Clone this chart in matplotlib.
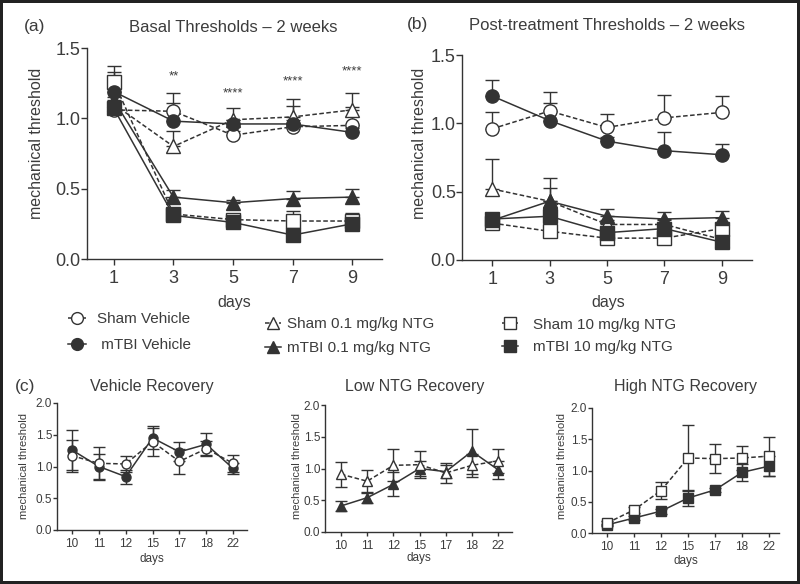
import numpy as np
import matplotlib
matplotlib.use('Agg')
import matplotlib.pyplot as plt
from matplotlib.lines import Line2D

plt.rcParams['font.family'] = ['Liberation Sans', 'DejaVu Sans']

DARK = '#333333'
TXT = '#3c3c3c'
W, H = 800, 584

# --- data: panels (a) and (b), days 1-9 ---
days_ab = [1, 3, 5, 7, 9]

a_sham_veh = [1.06, 1.05, 0.88, 0.94, 0.95]
a_sham_veh_err = [0.05, 0.13, 0.03, 0.15, 0.13]
a_mtbi_veh = [1.19, 0.98, 0.96, 0.96, 0.90]
a_mtbi_veh_err = [0.14, 0.13, 0.03, 0.03, 0.03]
a_sham_lo = [1.10, 0.80, 0.99, 1.01, 1.06]
a_sham_lo_err = [0.05, 0.11, 0.08, 0.13, 0.12]
a_mtbi_lo = [1.13, 0.44, 0.40, 0.43, 0.44]
a_mtbi_lo_err = [0.16, 0.05, 0.02, 0.05, 0.06]
a_sham_hi = [1.26, 0.32, 0.28, 0.27, 0.27]
a_sham_hi_err = [0.11, 0.02, 0.04, 0.07, 0.06]
a_mtbi_hi = [1.07, 0.31, 0.26, 0.17, 0.25]
a_mtbi_hi_err = [0.03, 0.02, 0.02, 0.03, 0.03]

stars_days = [3, 5, 7, 9]
stars_y = [1.30, 1.18, 1.26, 1.33]
stars_txt = ['**', '****', '****', '****']

b_sham_veh = [0.96, 1.09, 0.97, 1.04, 1.08]
b_sham_veh_err = [0.12, 0.14, 0.10, 0.17, 0.12]
b_mtbi_veh = [1.20, 1.02, 0.87, 0.80, 0.77]
b_mtbi_veh_err = [0.12, 0.13, 0.03, 0.14, 0.08]
b_sham_lo = [0.52, 0.43, 0.26, 0.26, 0.15]
b_sham_lo_err = [0.22, 0.17, 0.03, 0.03, 0.03]
b_mtbi_lo = [0.29, 0.43, 0.32, 0.30, 0.31]
b_mtbi_lo_err = [0.03, 0.10, 0.05, 0.05, 0.05]
b_sham_hi = [0.27, 0.21, 0.16, 0.16, 0.23]
b_sham_hi_err = [0.02, 0.02, 0.02, 0.02, 0.02]
b_mtbi_hi = [0.30, 0.32, 0.20, 0.23, 0.13]
b_mtbi_hi_err = [0.03, 0.04, 0.02, 0.03, 0.02]

# --- data: panel (c) recovery ---
days_c = ['10', '11', '12', '15', '17', '18', '22']

veh_sham = [1.17, 1.05, 1.04, 1.39, 1.08, 1.28, 1.05]
veh_sham_err = [0.25, 0.26, 0.13, 0.22, 0.20, 0.12, 0.13]
veh_mtbi = [1.26, 1.00, 0.84, 1.45, 1.23, 1.35, 0.97]
veh_mtbi_err = [0.32, 0.20, 0.11, 0.18, 0.15, 0.17, 0.09]
lo_sham = [0.91, 0.80, 1.05, 1.06, 0.93, 1.05, 1.12]
lo_sham_err = [0.20, 0.18, 0.25, 0.21, 0.16, 0.18, 0.19]
lo_mtbi = [0.41, 0.54, 0.75, 1.00, 0.95, 1.27, 0.98]
lo_mtbi_err = [0.08, 0.09, 0.19, 0.12, 0.10, 0.35, 0.14]
hi_sham = [0.16, 0.37, 0.68, 1.20, 1.19, 1.20, 1.23]
hi_sham_err = [0.03, 0.05, 0.14, 0.53, 0.23, 0.19, 0.31]
hi_mtbi = [0.13, 0.24, 0.35, 0.56, 0.69, 0.97, 1.07]
hi_mtbi_err = [0.02, 0.03, 0.04, 0.13, 0.03, 0.13, 0.16]

DASH = (0, (3, 1.6))

fig = plt.figure(figsize=(8, 5.84), dpi=100)
fig.patch.set_edgecolor('#222222')
fig.patch.set_linewidth(3)


def px_axes(l, t, r, b):
    return fig.add_axes([l / W, 1 - b / H, (r - l) / W, (b - t) / H])


def ftext(x, y, s, **kw):
    kw.setdefault('ha', 'center')
    kw.setdefault('va', 'center')
    kw.setdefault('color', TXT)
    fig.text(x / W, 1 - y / H, s, **kw)


def style(ax, fs, tlen):
    for s in ['top', 'right']:
        ax.spines[s].set_visible(False)
    for s in ['left', 'bottom']:
        ax.spines[s].set_color(DARK)
        ax.spines[s].set_linewidth(1.0)
    ax.tick_params(colors=DARK, labelcolor=TXT, labelsize=fs, length=tlen, width=1.0)
    ax.tick_params(axis='y', pad=0.5)


def series(ax, x, y, e, marker, filled, dashed, ms, cap, upper_only):
    e = np.array(e)
    yerr = [np.zeros(len(e)), e] if upper_only else e
    ax.errorbar(x, y, yerr=yerr, fmt='none', ecolor=DARK, elinewidth=1.0,
                capsize=cap, capthick=1.0, zorder=2)
    ax.plot(x, y, ls=DASH if dashed else '-', color=DARK, lw=1.1, marker=marker,
            ms=ms, mfc=DARK if filled else 'white', mec=DARK, mew=1.0, zorder=3)


# ---------- panel (a) ----------
ax_a = px_axes(87, 48, 382, 259)
style(ax_a, 13, 4)
ax_a.tick_params(axis='x', pad=4)
series(ax_a, days_ab, a_sham_veh, a_sham_veh_err, 'o', False, True, 9.5, 5, True)
series(ax_a, days_ab, a_sham_lo, a_sham_lo_err, '^', False, True, 10, 5, True)
series(ax_a, days_ab, a_sham_hi, a_sham_hi_err, 's', False, True, 9.5, 5, True)
series(ax_a, days_ab, a_mtbi_veh, a_mtbi_veh_err, 'o', True, False, 9.5, 5, True)
series(ax_a, days_ab, a_mtbi_lo, a_mtbi_lo_err, '^', True, False, 10, 5, True)
series(ax_a, days_ab, a_mtbi_hi, a_mtbi_hi_err, 's', True, False, 9.5, 5, True)
for d, yv, s in zip(stars_days, stars_y, stars_txt):
    ax_a.text(d, yv, s, ha='center', va='center', fontsize=9.5, color=TXT)
ax_a.set_xlim(0.1, 10)
ax_a.set_ylim(0, 1.5)
ax_a.set_xticks(days_ab)
ax_a.set_yticks([0, 0.5, 1.0, 1.5])
ax_a.set_yticklabels(['0.0', '0.5', '1.0', '1.5'])

ftext(35, 27, '(a)', fontsize=12.5)
ftext(233, 27, 'Basal Thresholds – 2 weeks', fontsize=12)
ftext(37, 143, 'mechanical threshold', fontsize=11.5, rotation=90)
ftext(234, 302, 'days', fontsize=11.5)

# ---------- panel (b) ----------
ax_b = px_axes(462, 55, 752, 260)
style(ax_b, 13, 4)
ax_b.tick_params(axis='x', pad=4)
series(ax_b, days_ab, b_sham_veh, b_sham_veh_err, 'o', False, True, 9.5, 5, True)
series(ax_b, days_ab, b_sham_lo, b_sham_lo_err, '^', False, True, 10, 5, True)
series(ax_b, days_ab, b_sham_hi, b_sham_hi_err, 's', False, True, 9.5, 5, True)
series(ax_b, days_ab, b_mtbi_veh, b_mtbi_veh_err, 'o', True, False, 9.5, 5, True)
series(ax_b, days_ab, b_mtbi_lo, b_mtbi_lo_err, '^', True, False, 10, 5, True)
series(ax_b, days_ab, b_mtbi_hi, b_mtbi_hi_err, 's', True, False, 9.5, 5, True)
ax_b.set_xlim(-0.05, 10.05)
ax_b.set_ylim(0, 1.5)
ax_b.set_xticks(days_ab)
ax_b.set_yticks([0, 0.5, 1.0, 1.5])
ax_b.set_yticklabels(['0.0', '0.5', '1.0', '1.5'])

ftext(418, 25, '(b)', fontsize=12.5)
ftext(607, 25, 'Post-treatment Thresholds – 2 weeks', fontsize=12)
ftext(420, 143, 'mechanical threshold', fontsize=11.5, rotation=90)
ftext(608, 302, 'days', fontsize=11.5)

# ---------- legend ----------
def handle(marker, filled, dashed):
    return Line2D([], [], ls=DASH if dashed else '-', color=DARK, lw=1.1,
                  marker=marker, ms=8.5, mfc=DARK if filled else 'white', mec=DARK, mew=1.0)


leg_cols = [
    (68, 332, 1.2, 0.72, 0.8, [('o', False, True, 'Sham Vehicle'), ('o', True, False, ' mTBI Vehicle')]),
    (265, 336, 1.05, 0.4, 0.65, [('^', False, True, 'Sham 0.1 mg/kg NTG'), ('^', True, False, 'mTBI 0.1 mg/kg NTG')]),
    (502, 336, 1.05, 1.0, 0.55, [('s', False, True, 'Sham 10 mg/kg NTG'), ('s', True, False, 'mTBI 10 mg/kg NTG')]),
]
for lx, ly, hl, hp, ls, entries in leg_cols:
    hs = [handle(m, f, d) for m, f, d, _ in entries]
    labs = [t for _, _, _, t in entries]
    leg = fig.legend(hs, labs, loc='center left', bbox_to_anchor=(lx / W, 1 - ly / H),
                     frameon=False, fontsize=11, handlelength=hl, handletextpad=hp,
                     labelspacing=ls, borderpad=0, borderaxespad=0)
    for t in leg.get_texts():
        t.set_color(TXT)

# ---------- panel (c) ----------
xc = np.arange(len(days_c))
c_specs = [
    ((57, 403, 247, 530), (-0.56, 6.52), 'Vehicle Recovery', 152, 24, 559,
     (veh_sham, veh_sham_err, 'o'), (veh_mtbi, veh_mtbi_err, 'o')),
    ((325, 405, 512, 532), (-0.61, 6.53), 'Low NTG Recovery', 415, 297, 558,
     (lo_sham, lo_sham_err, '^'), (lo_mtbi, lo_mtbi_err, '^')),
    ((592, 408, 779, 533), (-0.56, 6.37), 'High NTG Recovery', 686, 562, 561,
     (hi_sham, hi_sham_err, 's'), (hi_mtbi, hi_mtbi_err, 's')),
]
for box, xl, title, tx, ylx, dy, sham, mtbi in c_specs:
    ax = px_axes(*box)
    style(ax, 8.5, 3)
    ax.tick_params(axis='x', pad=3)
    ms = 7 if sham[2] == '^' else 6.5
    series(ax, xc, mtbi[0], mtbi[1], mtbi[2], True, False, ms, 4, False)
    series(ax, xc, sham[0], sham[1], sham[2], False, True, ms, 4, False)
    ax.set_xlim(*xl)
    ax.set_ylim(0, 2.0)
    ax.set_xticks(xc)
    ax.set_xticklabels(days_c)
    ax.set_yticks([0, 0.5, 1.0, 1.5, 2.0])
    ax.set_yticklabels(['0.0', '0.5', '1.0', '1.5', '2.0'])
    ftext(tx, 387, title, fontsize=11.5)
    ftext(ylx, 466, 'mechanical threshold', fontsize=8, rotation=90)
    ftext((box[0] + box[2]) / 2, dy, 'days', fontsize=8.5)

ftext(25, 387, '(c)', fontsize=12.5)

fig.savefig('out.png', dpi=100)
